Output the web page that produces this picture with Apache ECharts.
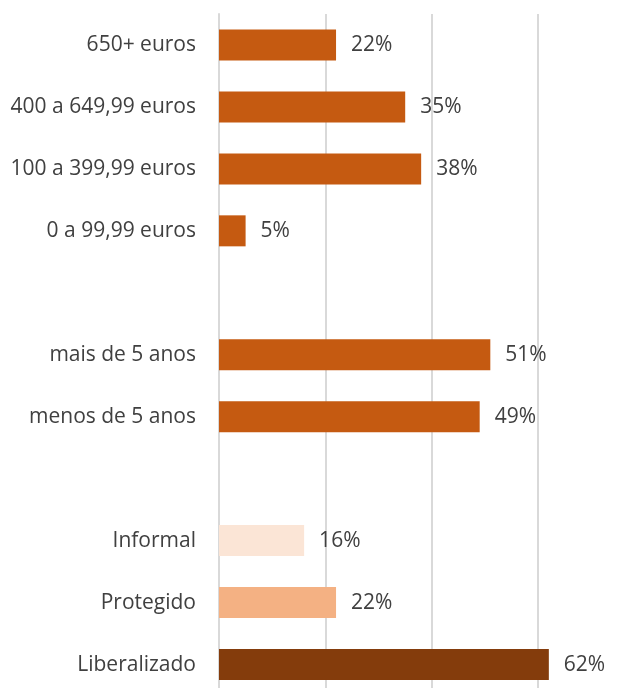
<!DOCTYPE html>
<html>
<head>
<meta charset="utf-8">
<script src="https://cdn.jsdelivr.net/npm/echarts@6/dist/echarts.min.js"></script>
<style>
  html, body { margin: 0; padding: 0; background: #ffffff; }
  #chart { width: 634px; height: 688px; }
</style>
</head>
<body>
<div id="chart"></div>
<script>
// Categories from top to bottom; empty strings are spacer rows between groups
const categories = [
  '650+ euros', '400 a 649,99 euros', '100 a 399,99 euros', '0 a 99,99 euros',
  '',
  'mais de 5 anos', 'menos de 5 anos',
  ' ',
  'Informal', 'Protegido', 'Liberalizado'
];
// Share of respondents, in percent (null = spacer row)
const values = [22, 35, 38, 5, null, 51, 49, null, 16, 22, 62];
// Bar colours per row
const barColors = [
  '#C55A11', '#C55A11', '#C55A11', '#C55A11', '#C55A11',
  '#C55A11', '#C55A11', '#C55A11',
  '#FBE5D6', '#F4B183', '#843C0C'
];

const FONT = '"Open Sans", sans-serif';
const chart = echarts.init(document.getElementById('chart'));

chart.setOption({
  animation: false,
  // the plot area runs past the right and bottom edges of the canvas
  grid: {
    left: 219, width: 425.6, top: 14, height: 681.5,
    containLabel: false, outerBoundsMode: 'none'
  },
  xAxis: {
    type: 'value',
    min: 0,
    max: 80,
    interval: 20,
    axisLabel: { show: false },
    axisLine: { show: false },
    axisTick: { show: false },
    splitLine: { show: true, lineStyle: { color: '#D9D9D9', width: 2 } }
  },
  yAxis: {
    type: 'category',
    inverse: true,
    data: categories,
    axisTick: { show: false },
    axisLine: { show: true, lineStyle: { color: '#D9D9D9', width: 2 } },
    axisLabel: {
      color: '#404040',
      fontFamily: FONT,
      fontSize: 21,
      margin: 23
    }
  },
  series: [{
    type: 'bar',
    data: values.map((v, i) => ({ value: v, itemStyle: { color: barColors[i] } })),
    barWidth: 31,
    label: {
      show: true,
      position: 'right',
      distance: 15,
      color: '#404040',
      fontFamily: FONT,
      fontSize: 21,
      formatter: p => p.value == null ? '' : p.value + '%'
    }
  }]
});
</script>
</body>
</html>
